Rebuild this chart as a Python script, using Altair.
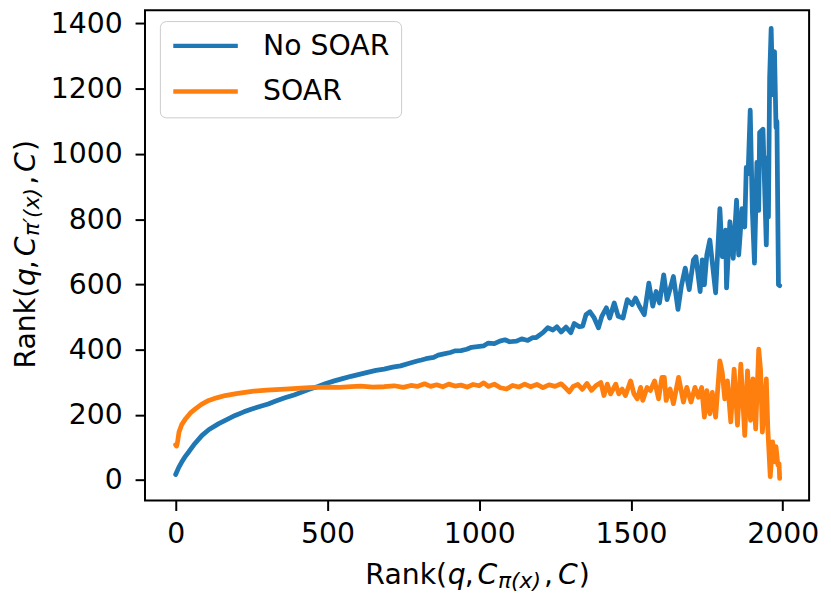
import altair as alt
import pandas as pd

# ---------------- data ----------------
blue_x = [0, 10, 20, 30, 43, 60, 87, 110, 142, 170,
          196, 225, 251, 280, 305, 330, 360, 390, 414, 440,
          469, 495, 523, 550, 578, 605, 632, 660, 687, 715,
          741, 770, 796, 810, 825, 850, 865, 880, 905, 920,
          940, 959, 975, 995, 1014, 1030, 1050, 1068, 1085, 1100,
          1123, 1140, 1160, 1177, 1188, 1210, 1226, 1243, 1256, 1270,
          1286, 1302, 1313, 1330, 1341, 1352, 1365, 1379, 1393, 1404,
          1419, 1430, 1445, 1458, 1474, 1488, 1504, 1515, 1528, 1544,
          1559, 1572, 1583, 1594, 1608, 1619, 1630, 1640, 1655, 1666,
          1679, 1692, 1706, 1714, 1728, 1735, 1742, 1750, 1760, 1779,
          1793, 1801, 1812, 1815, 1826, 1837, 1848, 1855, 1866, 1875,
          1880, 1886, 1893, 1900, 1907, 1915, 1921, 1924, 1935, 1946,
          1951, 1953, 1957, 1962, 1967, 1973, 1978, 1981, 1986, 1990]
blue_y = [17, 38, 55, 70, 86, 108, 137, 155, 173, 186,
          198, 209, 218, 226, 233, 242, 252, 261, 269, 278,
          287, 296, 304, 311, 318, 324, 330, 336, 340, 346,
          350, 358, 365, 368, 372, 376, 383, 386, 391, 396,
          397, 401, 407, 409, 411, 420, 418, 426, 430, 424,
          426, 433, 428, 437, 437, 452, 467, 460, 470, 454,
          469, 452, 480, 470, 472, 507, 516, 497, 467, 502,
          528, 497, 543, 502, 497, 553, 538, 558, 533, 507,
          604, 533, 578, 543, 629, 553, 589, 624, 523, 594,
          650, 584, 675, 685, 578, 675, 599, 690, 736, 574,
          832, 685, 766, 589, 792, 680, 858, 690, 832, 776,
          959, 939, 1134, 827, 665, 974, 827, 1066, 1076, 721,
          989, 807, 1233, 1385, 1182, 1314, 1081, 1100, 599, 596]

orange_x = [0, 3, 6, 11, 20, 33, 48, 65, 85, 109,
            135, 163, 200, 251, 300, 360, 400, 440, 469, 500,
            540, 578, 610, 650, 687, 720, 750, 775, 796, 820,
            840, 860, 880, 900, 920, 940, 960, 980, 1000, 1015,
            1030, 1050, 1070, 1090, 1110, 1130, 1150, 1170, 1190, 1210,
            1230, 1250, 1270, 1285, 1297, 1310, 1325, 1340, 1355, 1370,
            1384, 1401, 1411, 1422, 1433, 1450, 1460, 1471, 1482, 1499,
            1510, 1521, 1532, 1539, 1553, 1564, 1578, 1591, 1602, 1610,
            1616, 1629, 1640, 1657, 1673, 1684, 1698, 1711, 1722, 1733,
            1742, 1750, 1760, 1768, 1779, 1793, 1801, 1809, 1818, 1829,
            1840, 1851, 1862, 1875, 1884, 1894, 1902, 1911, 1921, 1927,
            1933, 1946, 1951, 1959, 1967, 1973, 1978, 1984, 1988, 1990]
orange_y = [108, 104, 115, 147, 170, 188, 205, 218, 232, 244,
            252, 259, 265, 272, 276, 279, 281, 283, 284, 285,
            284, 286, 288, 285, 286, 289, 284, 290, 287, 295,
            287, 292, 286, 294, 288, 291, 285, 293, 289, 298,
            287, 294, 283, 279, 290, 285, 294, 286, 293, 283,
            292, 287, 295, 282, 270, 287, 293, 278, 296, 275,
            289, 299, 259, 294, 264, 294, 264, 279, 259, 304,
            264, 249, 284, 244, 284, 274, 304, 249, 315, 315,
            244, 279, 234, 315, 239, 284, 239, 284, 254, 284,
            193, 274, 203, 269, 193, 365, 330, 249, 304, 178,
            340, 168, 355, 137, 335, 183, 310, 157, 401, 340,
            147, 310, 157, 10, 117, 56, 102, 46, 50, 5]

series_names = ["No SOAR", "SOAR"]
series_colors = ["#1f77b4", "#ff7f0e"]
x_ticks = [0, 500, 1000, 1500, 2000]
y_ticks = [0, 200, 400, 600, 800, 1000, 1200, 1400]

df = pd.DataFrame({
    "x": blue_x + orange_x,
    "y": blue_y + orange_y,
    "series": [series_names[0]] * len(blue_x) + [series_names[1]] * len(orange_x),
    "order": list(range(len(blue_x))) + list(range(len(orange_x))),
})

FONT = "DejaVu Sans"
FS = 28.5
LW = 4.8

axis_common = dict(title=None, grid=False, domain=False, tickSize=10, tickWidth=2,
                   tickColor="black", labelFont=FONT, labelFontSize=FS,
                   labelColor="black", format="d", labelOverlap=False)

lines = alt.Chart(df).mark_line(strokeWidth=LW, strokeJoin="round", strokeCap="round").encode(
    x=alt.X("x:Q", scale=alt.Scale(domain=[-101, 2087], nice=False, zero=False),
            axis=alt.Axis(values=x_ticks, labelPadding=9, **axis_common)),
    y=alt.Y("y:Q", scale=alt.Scale(domain=[-63, 1441], nice=False, zero=False),
            axis=alt.Axis(values=y_ticks, labelPadding=13, **axis_common)),
    color=alt.Color("series:N",
                    scale=alt.Scale(domain=series_names, range=series_colors),
                    legend=alt.Legend(orient="none", legendX=15, legendY=11, title=None,
                                      symbolType="stroke", symbolSize=4225,
                                      symbolStrokeWidth=4.5, labelFont=FONT,
                                      labelFontSize=FS, labelColor="black",
                                      padding=11, rowPadding=17, clipHeight=28,
                                      labelOffset=23, labelLimit=400,
                                      fillColor="rgba(255,255,255,0.8)",
                                      strokeColor="#cccccc", cornerRadius=6)),
    order="order:Q",
)

# ---------------- axis titles built from text pieces ----------------
# (text, italic, font size, position along the text, is subscript)
x_title_pieces = [
    ("Rank(", False, FS, 222, False),
    ("q", True, FS, 305, False),
    (",", False, FS, 322, False),
    ("C", True, FS, 335, False),
    ("π(x)", True, 22, 355.5, True),
    (",", False, FS, 402, False),
    ("C", True, FS, 416, False),
    (")", False, FS, 437, False),
]
y_title_pieces = [
    ("Rank(", False, FS, 0, False),
    ("q", True, FS, 83, False),
    (",", False, FS, 100, False),
    ("C", True, FS, 113, False),
    ("π′(x)", True, 22, 133.5, True),
    (",", False, FS, 185, False),
    ("C", True, FS, 198, False),
    (")", False, FS, 219, False),
]

texts = []
for txt, ital, size, pos, sub in x_title_pieces:
    kw = dict(font=FONT, fontSize=size, align="left", baseline="alphabetic", color="black")
    if ital:
        kw["fontStyle"] = "italic"
    texts.append(
        alt.Chart(pd.DataFrame({"t": [txt]})).mark_text(**kw).encode(
            text="t:N", x=alt.value(pos), y=alt.value(582 if sub else 578))
    )
for txt, ital, size, pos, sub in y_title_pieces:
    kw = dict(font=FONT, fontSize=size, align="left", baseline="alphabetic",
              color="black", angle=270)
    if ital:
        kw["fontStyle"] = "italic"
    texts.append(
        alt.Chart(pd.DataFrame({"t": [txt]})).mark_text(**kw).encode(
            text="t:N", x=alt.value(-107 if sub else -111), y=alt.value(361 - pos))
    )

chart = alt.layer(lines, *texts).properties(
    width=669, height=494,
    padding={"left": 138, "top": 0, "right": 14, "bottom": 94},
    autosize=alt.AutoSizeParams(type="none"),
    background="white",
).configure_view(stroke="black", strokeWidth=2)

chart.save("out.html", embed_options={"renderer": "svg", "actions": False})
